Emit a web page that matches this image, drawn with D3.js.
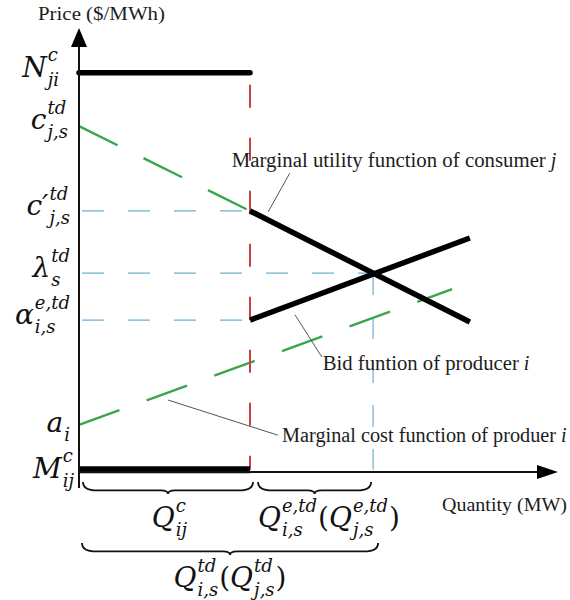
<!DOCTYPE html>
<html>
<head>
<meta charset="utf-8">
<script src="https://d3js.org/d3.v7.min.js"></script>
<style>
  body { margin: 0; background: #fff; }
  .note { font-family: "Liberation Serif", "Times New Roman", serif; fill: #1c1c1c; }
  .math text { font-family: "DejaVu Serif", serif; fill: #111; }
</style>
</head>
<body>
<script>
// ---- data (price units on y, quantity units on x) ----
var qCommitted = 3.57      // end of the committed block Q^c_ij
var qEquilibrium = 6.14    // where the bid and utility lines cross
var levelN = 8.99, levelC = 7.79, levelC2 = 5.88, levelLambda = 4.48
var levelAlpha = 3.42, levelA = 1.06, levelM = 0.05

var utilityLine = [[3.57, 5.88], [8.16, 3.38]]     // marginal utility of consumer j
var bidLine = [[3.57, 3.42], [8.16, 5.27]]         // bid function of producer i
var utilityDashed = [[0, 7.79], [3.57, 5.88]]
var costDashed = [[0, 1.06], [7.79, 4.12]]         // marginal cost of producer i

var yLabels = [
  {level: levelN, atoms: [{base: "N", sup: "c", sub: "ji"}], nudge: -10, dy: 4},
  {level: levelC, atoms: [{base: "c", sup: "td", sub: "j,s"}], nudge: -1, dy: 3},
  {level: levelC2, atoms: [{base: "c\u2032", sup: "td", sub: "j,s"}], nudge: 1, dy: 4},
  {level: levelLambda, atoms: [{base: "\u03bb", sup: "td", sub: "s"}], nudge: 1, dy: 4},
  {level: levelAlpha, atoms: [{base: "\u03b1", sup: "e,td", sub: "i,s"}], nudge: 1, dy: 4},
  {level: levelA, atoms: [{base: "a", sub: "i"}], nudge: 1, dy: 7},
  {level: levelM, atoms: [{base: "M", sup: "c", sub: "ij"}], nudge: 5, dy: 8}
]

var notes = [
  {text: "Marginal utility function of consumer", it: "j", at: [3.19, 6.87], len: 314, from: [4.40, 6.73], to: [3.95, 5.86]},
  {text: "Bid funtion of producer", it: "i", at: [5.09, 2.30], len: 196, from: [5.07, 2.59], to: [4.51, 3.54]},
  {text: "Marginal cost function of produer", it: "i", at: [4.24, 0.68], len: 274, from: [4.15, 0.83], to: [1.86, 1.62]}
]

// ---- layout ----
var W = 570, H = 600
var svg = d3.select("body").append("svg").attr("width", W).attr("height", H)

var x = d3.scaleLinear().domain([0, 10]).range([79, 558])
var y = d3.scaleLinear().domain([0, 10]).range([472, 28])

var green = "#3aa64c", blue = "#6fb0d2", red = "#c8403f"

function seg(p, color, width, dash, offset) {
  return svg.append("line")
    .attr("x1", x(p[0][0])).attr("y1", y(p[0][1]))
    .attr("x2", x(p[1][0])).attr("y2", y(p[1][1]))
    .attr("stroke", color).attr("stroke-width", width)
    .attr("stroke-dasharray", dash || null)
    .attr("stroke-dashoffset", offset || null)
}

// blue guide lines
seg([[0, levelC2], [qCommitted, levelC2]], blue, 1.2, "22,24", -3)
seg([[0, levelLambda], [qEquilibrium, levelLambda]], blue, 1.2, "22,24", -3)
seg([[0, levelAlpha], [qCommitted, levelAlpha]], blue, 1.2, "22,24", -3)
seg([[qEquilibrium, levelLambda], [qEquilibrium, levelM]], blue, 1.2, "22,22")

// green dashed functions
seg(utilityDashed, green, 2.4, "43,29")
seg(costDashed, green, 2.4, "43,29")

// red committed boundary
seg([[qCommitted, levelN], [qCommitted, levelM]], red, 2, "23,30", 41)

// black lines
seg([[0, levelN], [qCommitted, levelN]], "#000", 5.5).attr("stroke-linecap", "round")
seg([[0, levelM], [qCommitted, levelM]], "#000", 7)
seg(utilityLine, "#000", 5.5)
seg(bidLine, "#000", 5.5)

// axes
svg.append("line").attr("x1", x(0)).attr("x2", x(0)).attr("y1", y(-0.36)).attr("y2", y(9.6))
  .attr("stroke", "#111").attr("stroke-width", 2)
svg.append("path").attr("d", d3.line()([[x(0), y(10)], [x(0) - 8, y(10) + 19], [x(0) + 8, y(10) + 19]]) + "Z")
  .attr("fill", "#000")
svg.append("line").attr("x1", x(0)).attr("x2", x(9.6)).attr("y1", y(0)).attr("y2", y(0))
  .attr("stroke", "#111").attr("stroke-width", 2)
svg.append("path").attr("d", d3.line()([[x(10), y(0)], [x(10) - 21, y(0) - 7], [x(10) - 21, y(0) + 7]]) + "Z")
  .attr("fill", "#000")

svg.append("text").attr("class", "note").attr("x", 38).attr("y", 20)
  .attr("font-size", 19).attr("textLength", 127).attr("lengthAdjust", "spacingAndGlyphs")
  .text("Price ($/MWh)")
svg.append("text").attr("class", "note").attr("x", 442).attr("y", 511)
  .attr("font-size", 19).attr("textLength", 125).attr("lengthAdjust", "spacingAndGlyphs")
  .text("Quantity (MW)")

// annotations with leader lines; the trailing index letter is italic
notes.forEach(function(n) {
  svg.append("line")
    .attr("x1", x(n.from[0])).attr("y1", y(n.from[1]))
    .attr("x2", x(n.to[0])).attr("y2", y(n.to[1]))
    .attr("stroke", "#555").attr("stroke-width", 1)
  svg.append("text").attr("class", "note")
    .attr("x", x(n.at[0])).attr("y", y(n.at[1]))
    .attr("font-size", 20).attr("textLength", n.len).attr("lengthAdjust", "spacingAndGlyphs")
    .text(n.text)
  svg.append("text").attr("class", "note")
    .attr("x", x(n.at[0]) + n.len + 5).attr("y", y(n.at[1]))
    .attr("font-size", 20).attr("font-style", "italic")
    .text(n.it)
})

// math labels: base letter with stacked super/subscripts
var mainSize = 28, scriptSize = 18
function mathRow(g, atoms) {
  var cx = 0
  atoms.forEach(function(a) {
    if (a.plain) {
      var p = g.append("text").attr("x", cx).attr("font-size", mainSize).text(a.plain)
      cx += p.node().getComputedTextLength()
      return
    }
    var b = g.append("text").attr("x", cx).attr("font-size", mainSize)
      .attr("font-style", "italic").text(a.base)
    cx += b.node().getComputedTextLength() + 1
    var w = 0
    if (a.sup) {
      var s = g.append("text").attr("x", cx).attr("y", -mainSize * 0.55)
        .attr("font-size", scriptSize).attr("font-style", "italic").text(a.sup)
      w = Math.max(w, s.node().getComputedTextLength())
    }
    if (a.sub) {
      var u = g.append("text").attr("x", cx).attr("y", mainSize * 0.33)
        .attr("font-size", scriptSize).attr("font-style", "italic").text(a.sub)
      w = Math.max(w, u.node().getComputedTextLength())
    }
    cx += w + 1
  })
  return cx
}

yLabels.forEach(function(d) {
  var g = svg.append("g").attr("class", "math")
  var w = mathRow(g, d.atoms)
  g.attr("transform", "translate(" + (x(0) - 9 + d.nudge - w) + "," + (y(d.level) + d.dy) + ")")
})

// braces under the quantity axis
function brace(x1, x2, top, h) {
  var mid = (x1 + x2) / 2, y1 = top + h * 0.7, y2 = top + h, r = 14, r2 = 7
  return "M" + x1 + "," + top + " Q" + x1 + "," + y1 + " " + (x1 + r) + "," + y1 +
    " L" + (mid - r2) + "," + y1 + " Q" + mid + "," + y1 + " " + mid + "," + y2 +
    " Q" + mid + "," + y1 + " " + (mid + r2) + "," + y1 +
    " L" + (x2 - r) + "," + y1 + " Q" + x2 + "," + y1 + " " + x2 + "," + top
}
var braces = [
  [x(0) + 4, x(qCommitted) + 3, 482],
  [x(qCommitted) + 8, x(qEquilibrium) - 2, 482],
  [x(0) + 3, x(qEquilibrium) + 5, 543]
]
braces.forEach(function(b) {
  svg.append("path").attr("d", brace(b[0], b[1], b[2], 12))
    .attr("fill", "none").attr("stroke", "#111").attr("stroke-width", 1.8)
})

var qLabels = [
  {cx: 170, base: 527, atoms: [{base: "Q", sup: "c", sub: "ij"}]},
  {cx: 329, base: 527, atoms: [{base: "Q", sup: "e,td", sub: "i,s"}, {plain: "("},
    {base: "Q", sup: "e,td", sub: "j,s"}, {plain: ")"}]},
  {cx: 230, base: 587, atoms: [{base: "Q", sup: "td", sub: "i,s"}, {plain: "("},
    {base: "Q", sup: "td", sub: "j,s"}, {plain: ")"}]}
]
qLabels.forEach(function(d) {
  var g = svg.append("g").attr("class", "math")
  var w = mathRow(g, d.atoms)
  g.attr("transform", "translate(" + (d.cx - w / 2) + "," + d.base + ")")
})
</script>
</body>
</html>
